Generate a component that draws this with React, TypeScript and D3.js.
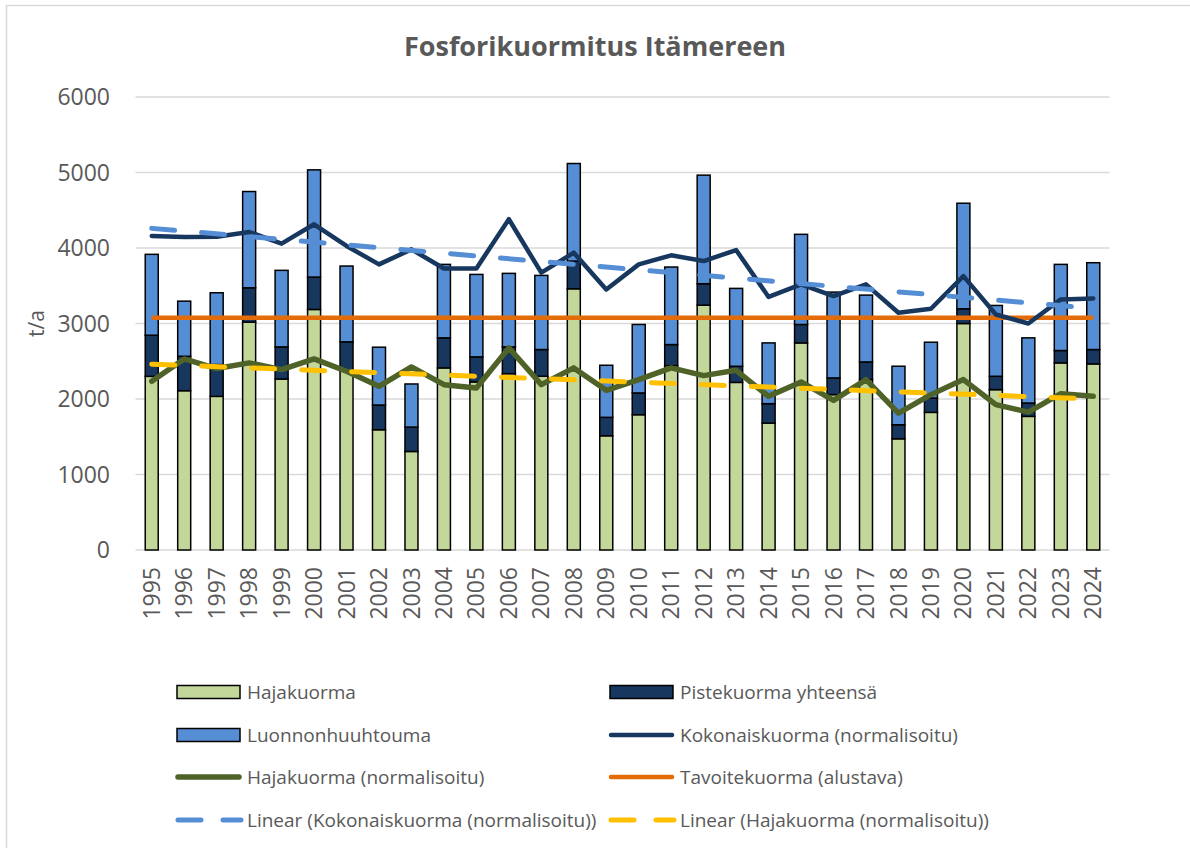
import React from 'react';
import * as d3 from 'd3';

const years = [
  '1995', '1996', '1997', '1998', '1999', '2000', '2001', '2002', '2003', '2004',
  '2005', '2006', '2007', '2008', '2009', '2010', '2011', '2012', '2013', '2014',
  '2015', '2016', '2017', '2018', '2019', '2020', '2021', '2022', '2023', '2024',
];

// t/a
const hajakuorma = [
  2300, 2110, 2035, 3018, 2265, 3186, 2370, 1593, 1305, 2412,
  2226, 2336, 2301, 3460, 1513, 1792, 2442, 3243, 2220, 1681,
  2743, 2058, 2257, 1473, 1823, 3000, 2124, 1770, 2478, 2465,
];
const pistekuorma = [
  545, 456, 421, 455, 425, 429, 387, 327, 323, 398,
  332, 354, 354, 367, 244, 288, 279, 284, 213, 257,
  244, 221, 234, 186, 190, 195, 177, 177, 164, 190,
];
const luonnonhuuhtouma = [
  1071, 730, 951, 1275, 1014, 1420, 1004, 766, 571, 973,
  1092, 974, 982, 1292, 690, 907, 1027, 1438, 1032, 805,
  1194, 1137, 885, 775, 739, 1398, 938, 863, 1141, 1150,
];
const kokonaisNorm = [
  4159, 4146, 4150, 4212, 4058, 4314, 4027, 3783, 3982, 3728,
  3730, 4381, 3673, 3938, 3451, 3783, 3903, 3827, 3973, 3352,
  3518, 3363, 3518, 3142, 3195, 3628, 3119, 3000, 3319, 3332,
];
const hajaNorm = [
  2235, 2531, 2403, 2478, 2389, 2531, 2367, 2168, 2425, 2190,
  2146, 2677, 2190, 2412, 2115, 2257, 2412, 2310, 2380, 2035,
  2226, 1982, 2257, 1814, 2058, 2257, 1925, 1827, 2071, 2035,
];
const tavoitekuorma = years.map(() => 3075);
// linear trend lines: value at first and last year
const kokonaisTrend = [4260, 3200];
const hajaTrend = [2460, 2000];

const yTicks = [0, 1000, 2000, 3000, 4000, 5000, 6000];

const C = {
  haja: '#c4d79b',
  piste: '#17375e',
  luonnon: '#558ed5',
  koko: '#17375e',
  hajaLine: '#4f6228',
  target: '#e36c09',
  kokoTrend: '#558ed5',
  hajaTrend: '#ffc000',
  text: '#595959',
  grid: '#d9d9d9',
};

const FONT = '"Open Sans", "Liberation Sans", sans-serif';

const W = 1190;
const H = 848;

const App: React.FC = () => {
  const x = d3.scaleBand<string>().domain(years).range([135.5, 1109.5]);
  const y = d3.scaleLinear().domain([0, 6000]).range([550, 97]);
  const cx = (d: string) => (x(d) || 0) + x.bandwidth() / 2;
  const barW = 13;

  const line = d3.line<number>()
    .x((_, i) => cx(years[i]))
    .y((d) => y(d));

  const trendX = [cx(years[0]), cx(years[years.length - 1])];
  const trendPath = (vals: number[]) =>
    d3.line<number>().x((_, i) => trendX[i]).y((d) => y(d))(vals) || '';

  const stacks = years.map((yr, i) => {
    const a = hajakuorma[i];
    const b = a + pistekuorma[i];
    const c = b + luonnonhuuhtouma[i];
    return [
      { y0: 0, y1: a, fill: C.haja },
      { y0: a, y1: b, fill: C.piste },
      { y0: b, y1: c, fill: C.luonnon },
    ];
  });

  const legend = [
    { label: 'Hajakuorma', kind: 'box', color: C.haja },
    { label: 'Pistekuorma yhteensä', kind: 'box', color: C.piste },
    { label: 'Luonnonhuuhtouma', kind: 'box', color: C.luonnon },
    { label: 'Kokonaiskuorma (normalisoitu)', kind: 'line', color: C.koko, w: 4.5 },
    { label: 'Hajakuorma (normalisoitu)', kind: 'line', color: C.hajaLine, w: 5.5 },
    { label: 'Tavoitekuorma (alustava)', kind: 'line', color: C.target, w: 4.5 },
    { label: 'Linear (Kokonaiskuorma (normalisoitu))', kind: 'dash', color: C.kokoTrend, w: 5 },
    { label: 'Linear (Hajakuorma (normalisoitu))', kind: 'dash', color: C.hajaTrend, w: 5 },
  ];
  const legendCols = [177, 610];
  const legendRows = [692, 735, 777, 820];

  return (
    <div style={{ position: 'absolute', left: 0, top: 0, width: W, height: H, background: '#fff' }}>
      <svg width={W} height={H} style={{ display: 'block', fontFamily: FONT }}>
        <rect x={0} y={0} width={W} height={H} fill="#fff" />
        <rect x={6.5} y={5.5} width={W + 20} height={H + 20} fill="none" stroke={C.grid} strokeWidth={1.5} />

        <text x={595} y={56} textAnchor="middle" fontSize={27} fontWeight={700} fill={C.text}>
          Fosforikuormitus Itämereen
        </text>

        {/* grid */}
        {yTicks.map((t) => (
          <g key={t}>
            <line x1={135.5} x2={1109.5} y1={y(t)} y2={y(t)} stroke={C.grid} strokeWidth={1.5} />
            <text x={110} y={y(t)} dy="0.35em" textAnchor="end" fontSize={23} fill={C.text}>
              {t}
            </text>
          </g>
        ))}

        <text transform={`translate(37,${y(3000)}) rotate(-90)`} textAnchor="middle" dy="0.35em" fontSize={21} fill={C.text}>
          t/a
        </text>

        {/* stacked bars */}
        {years.map((yr, i) => (
          <g key={yr}>
            {stacks[i].map((s, j) => (
              <rect
                key={j}
                x={cx(yr) - barW / 2}
                y={y(s.y1)}
                width={barW}
                height={y(s.y0) - y(s.y1)}
                fill={s.fill}
                stroke="#000"
                strokeWidth={1.5}
              />
            ))}
          </g>
        ))}

        {/* x labels */}
        {years.map((yr) => (
          <text
            key={yr}
            transform={`translate(${cx(yr)},567) rotate(-90)`}
            textAnchor="end"
            dy="0.35em"
            fontSize={23}
            fill={C.text}
          >
            {yr}
          </text>
        ))}

        <path d={line(tavoitekuorma) || ''} fill="none" stroke={C.target} strokeWidth={4.5} />
        <path d={line(kokonaisNorm) || ''} fill="none" stroke={C.koko} strokeWidth={4.5} strokeLinejoin="round" strokeLinecap="round" />
        <path d={line(hajaNorm) || ''} fill="none" stroke={C.hajaLine} strokeWidth={5.5} strokeLinejoin="round" strokeLinecap="round" />
        <path d={trendPath(kokonaisTrend)} fill="none" stroke={C.kokoTrend} strokeWidth={5} strokeDasharray="23,27" strokeLinecap="round" />
        <path d={trendPath(hajaTrend)} fill="none" stroke={C.hajaTrend} strokeWidth={5} strokeDasharray="23,27" strokeLinecap="round" />

        {/* legend */}
        {legend.map((l, i) => {
          const lx = legendCols[i % 2];
          const ly = legendRows[Math.floor(i / 2)];
          return (
            <g key={l.label}>
              {l.kind === 'box' && (
                <rect x={lx} y={ly - 6.5} width={63} height={13} fill={l.color} stroke="#000" strokeWidth={1.5} />
              )}
              {l.kind === 'line' && (
                <line x1={lx + 1} x2={lx + 62} y1={ly} y2={ly} stroke={l.color} strokeWidth={l.w} strokeLinecap="round" />
              )}
              {l.kind === 'dash' && (
                <line x1={lx + 1} x2={lx + 64} y1={ly} y2={ly} stroke={l.color} strokeWidth={l.w} strokeLinecap="round" strokeDasharray="23,22" />
              )}
              <text x={lx + 70} y={ly} dy="0.35em" fontSize={19} fill={C.text}>
                {l.label}
              </text>
            </g>
          );
        })}
      </svg>
    </div>
  );
};

export default App;
